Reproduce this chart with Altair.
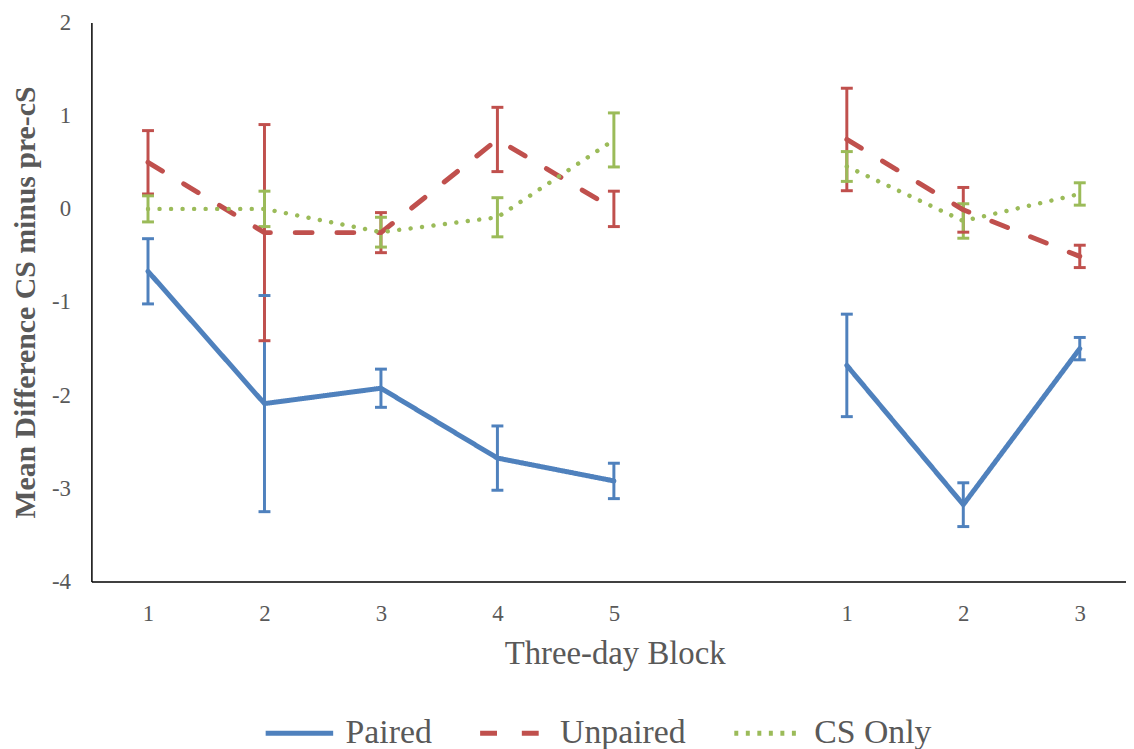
import json
import altair as alt
import pandas as pd

# ---- data ----
series_names = ["Paired", "Unpaired", "CS Only"]
series_colors = ["#4F81BD", "#C0504D", "#9BBB59"]
block_labels = ["1", "2", "3", "4", "5", "1", "2", "3"]
positions = [1, 2, 3, 4, 5, 7, 8, 9]
phases = ["first", "first", "first", "first", "first", "second", "second", "second"]

paired_mean = [-0.67, -2.09, -1.925, -2.675, -2.92, -1.68, -3.175, -1.50]
paired_err = [0.35, 1.16, 0.205, 0.345, 0.19, 0.55, 0.235, 0.12]
unpaired_mean = [0.50, -0.255, -0.255, 0.745, 0.0, 0.745, -0.01, -0.51]
unpaired_err = [0.34, 1.16, 0.215, 0.345, 0.19, 0.55, 0.24, 0.12]
cs_only_mean = [0.0, 0.0, -0.25, -0.09, 0.74, 0.455, -0.13, 0.16]
cs_only_err = [0.14, 0.19, 0.16, 0.21, 0.29, 0.16, 0.185, 0.12]

y_ticks = [-4, -3, -2, -1, 0, 1, 2]

rows = []
for name, means, errs in [
    ("Paired", paired_mean, paired_err),
    ("Unpaired", unpaired_mean, unpaired_err),
    ("CS Only", cs_only_mean, cs_only_err),
]:
    for p, lab, ph, m, e in zip(positions, block_labels, phases, means, errs):
        rows.append(dict(series=name, pos=p, block=lab, phase=ph,
                         mean=m, lo=m - e, hi=m + e))
df = pd.DataFrame(rows)

FONT = "Liberation Serif"
GREY = "#595959"

label_expr = f"{json.dumps(block_labels)}[indexof({json.dumps(positions)}, datum.value)]"

x_axis = alt.Axis(values=positions, labelExpr=label_expr, title="Three-day Block",
                  grid=False, ticks=False, labelPadding=21, labelFlush=False,
                  labelFont=FONT, labelFontSize=23, labelColor=GREY,
                  titleFont=FONT, titleFontSize=33, titleColor=GREY,
                  titleFontWeight="normal", titleX=527, titleY=73,
                  titleAlign="center", titleBaseline="middle",
                  domainColor="#000000", domainWidth=1.5)
x_scale = alt.Scale(domain=[0.514, 9.397], nice=False, zero=False)

y_axis = alt.Axis(values=y_ticks, labelExpr="'' + datum.value",
                  title="Mean Difference CS minus pre-cS",
                  grid=False, ticks=False, labelPadding=21, labelFlush=False,
                  labelFont=FONT, labelFontSize=23, labelColor=GREY,
                  titleFont=FONT, titleFontSize=30, titleColor=GREY,
                  titleFontWeight="bold", titleX=-66, titleY=281.5,
                  titleAngle=270, titleAlign="center", titleBaseline="middle",
                  domainColor="#000000", domainWidth=1.5)
y_scale = alt.Scale(domain=[-4, 2], nice=False, zero=False)

color = alt.Color("series:N", scale=alt.Scale(domain=series_names, range=series_colors),
                  legend=alt.Legend(title=None))
dash = alt.StrokeDash("series:N",
                      scale=alt.Scale(domain=series_names,
                                      range=[[1, 0], [17, 25], [4, 7.6]]),
                      legend=alt.Legend(title=None))

base = alt.Chart(df)

rules = base.mark_rule(strokeWidth=3, opacity=1).encode(
    x=alt.X("pos:Q", scale=x_scale, axis=x_axis),
    y=alt.Y("lo:Q", scale=y_scale, axis=y_axis),
    y2="hi:Q",
    color=color,
)
caps_lo = base.mark_tick(orient="horizontal", size=12, thickness=3, opacity=1).encode(
    x=alt.X("pos:Q", scale=x_scale, axis=x_axis),
    y=alt.Y("lo:Q", scale=y_scale, axis=y_axis),
    color=color,
)
caps_hi = base.mark_tick(orient="horizontal", size=12, thickness=3, opacity=1).encode(
    x=alt.X("pos:Q", scale=x_scale, axis=x_axis),
    y=alt.Y("hi:Q", scale=y_scale, axis=y_axis),
    color=color,
)
lines_main = base.transform_filter(
    "datum.series != 'CS Only'"
).mark_line(strokeWidth=5, strokeCap="round", strokeJoin="round", opacity=1).encode(
    x=alt.X("pos:Q", scale=x_scale, axis=x_axis),
    y=alt.Y("mean:Q", scale=y_scale, axis=y_axis),
    color=color,
    strokeDash=dash,
    detail="phase:N",
)
lines_cs = base.transform_filter(
    "datum.series == 'CS Only'"
).mark_line(strokeWidth=4.5, strokeCap="round", strokeDash=[0.01, 11.6], opacity=1).encode(
    x=alt.X("pos:Q", scale=x_scale, axis=x_axis),
    y=alt.Y("mean:Q", scale=y_scale, axis=y_axis),
    color=color,
    detail="phase:N",
)

chart = alt.layer(rules, caps_lo, caps_hi, lines_main, lines_cs).properties(
    width=1042, height=563,
    autosize=alt.AutoSizeParams(type="none"),
    padding={"left": 84, "top": 12, "right": 0, "bottom": 166},
).configure_view(stroke=None).configure_legend(
    orient="none", legendX=173, legendY=679, direction="horizontal",
    symbolType="stroke", symbolSize=4624, symbolStrokeWidth=5, symbolOpacity=1,
    labelFont=FONT, labelFontSize=34, labelColor=GREY, labelOffset=10,
    columnPadding=38, padding=0,
)

chart.save("out.html", embed_options={"renderer": "svg", "actions": False})
